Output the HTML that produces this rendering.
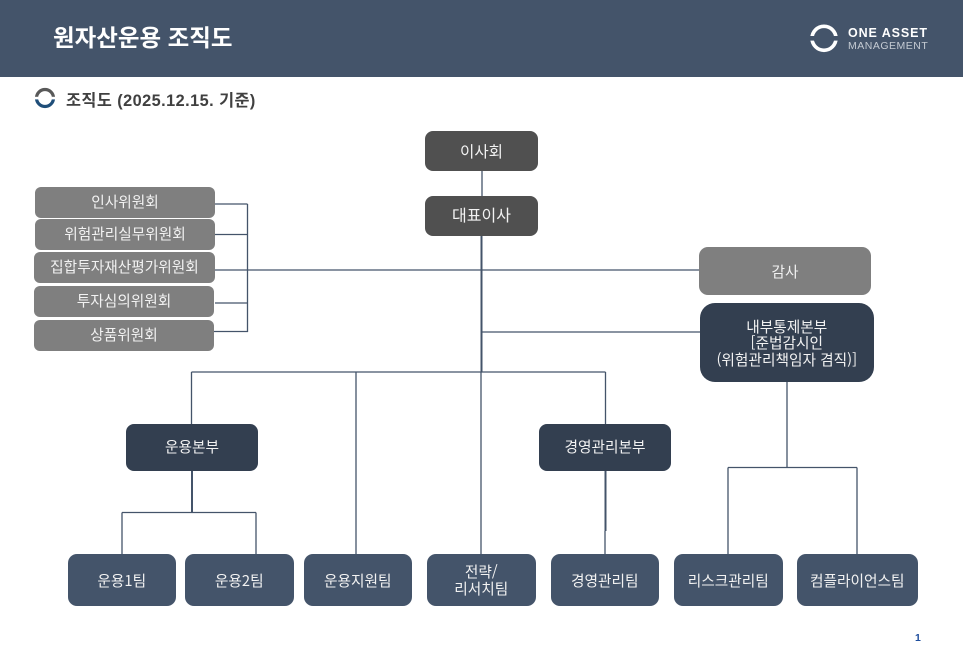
<!DOCTYPE html>
<html lang="ko"><head><meta charset="utf-8"><style>
html,body{margin:0;padding:0;background:#fff}
#p{position:relative;width:963px;height:666px;overflow:hidden;background:#fff;font-family:"Liberation Sans","Noto Sans CJK KR",sans-serif}
.k{font-family:"Noto Sans CJK KR","Liberation Sans",sans-serif}
.b{position:absolute;box-sizing:border-box;display:flex;align-items:center;justify-content:center;text-align:center;color:#f2f2f2;font-family:"Noto Sans CJK KR","Liberation Sans",sans-serif;font-size:14.7px;line-height:17px;border-radius:8px;white-space:nowrap}
.g{background:#7f7f7f;border-radius:6px;padding-bottom:2px}
.d{background:#505050}
.n{background:#333f50}
.t{background:#44546a;border-radius:9px}
svg{position:absolute;left:0;top:0}
</style></head><body><div id="p">
<div style="position:absolute;left:0;top:0;width:963px;height:77px;background:#44546a"></div>
<div class="k" style="position:absolute;left:53px;top:18px;color:#fff;font-size:23.5px;font-weight:700;line-height:36px;white-space:nowrap">원자산운용 조직도</div>
<svg width="963" height="666" viewBox="0 0 963 666" fill="none">
<circle cx="824" cy="38.300" r="12" stroke="#fff" stroke-width="3.600"/>
<rect x="808" y="36" width="32" height="4.600" fill="#44546a"/>
<path d="M36.500 98A8.500 8.500 0 0 1 53.500 98" stroke="#595959" stroke-width="3.200"/>
<path d="M36.500 98A8.500 8.500 0 0 0 53.500 98" stroke="#1f4e79" stroke-width="3.200"/>
<rect x="33" y="96.800" width="24" height="2.600" fill="#fff"/>
<g stroke="#44546a" stroke-width="1.3">
<path d="M215 204H247.500M215 234.500H248M215 303H247.500M214 331.500H248M247.500 204V332"/>
<path d="M215 270H699M481 332H700"/>
<path d="M482 171V196"/>
<path d="M191.500 372H605.500M191.500 372V424M356 372V554M605.500 372V424"/>
<path d="M122 512.500H256M122 512.500V554M256 512.500V554"/>
<path d="M481 372V554M605 531V554"/>
<path d="M787 382V467.500M728 467.500H857M728 467.500V554M857 467.500V554"/>
<path d="M481.500 235V372" stroke-width="2"/>
<path d="M192 471V512" stroke-width="2"/>
<path d="M605.500 471V531" stroke-width="2"/>
</g>
</svg>
<div style="position:absolute;left:848px;top:26px;color:#fff;font-size:12.500px;font-weight:700;letter-spacing:0.9px;line-height:14px;white-space:nowrap">ONE ASSET</div>
<div style="position:absolute;left:848px;top:40px;color:#c5cbd3;font-size:10.500px;letter-spacing:0.5px;line-height:12px;white-space:nowrap">MANAGEMENT</div>
<div style="position:absolute;left:66px;top:89px;color:#404040;font-size:16.300px;font-weight:700;letter-spacing:0.45px;line-height:24px;white-space:nowrap;font-family:'Liberation Sans','Noto Sans CJK KR',sans-serif">조직도 (2025.12.15. 기준)</div>

<div class="b d" style="left:425px;top:131px;width:113px;height:40px;font-size:15.600px">이사회</div>
<div class="b d" style="left:425px;top:196px;width:113px;height:39.500px;font-size:16px;padding-bottom:2px">대표이사</div>
<div class="b g" style="left:35px;top:187px;width:180px;height:31px">인사위원회</div>
<div class="b g" style="left:35px;top:219px;width:180px;height:31px">위험관리실무위원회</div>
<div class="b g" style="left:34px;top:252px;width:181px;height:31px">집합투자재산평가위원회</div>
<div class="b g" style="left:34px;top:286px;width:180px;height:31px">투자심의위원회</div>
<div class="b g" style="left:34px;top:320px;width:180px;height:31px">상품위원회</div>
<div class="b g" style="left:699px;top:247px;width:172px;height:48px;border-radius:9px;padding-bottom:0">감사</div>
<div class="b n" style="left:699.500px;top:303px;width:174.500px;height:79px;border-radius:15px;line-height:16.500px;padding-top:2px;letter-spacing:0">내부통제본부<br>[준법감시인<br>(위험관리책임자 겸직)]</div>
<div class="b n" style="left:126px;top:424px;width:132px;height:47px;padding-bottom:2px">운용본부</div>
<div class="b n" style="left:539px;top:424px;width:132px;height:47px;padding-bottom:2px">경영관리본부</div>
<div class="b t" style="left:67.500px;top:554px;width:108.500px;height:52px">운용1팀</div>
<div class="b t" style="left:185px;top:554px;width:108.500px;height:52px">운용2팀</div>
<div class="b t" style="left:303.500px;top:554px;width:108.500px;height:52px">운용지원팀</div>
<div class="b t" style="left:427px;top:554px;width:108.500px;height:52px">전략/<br>리서치팀</div>
<div class="b t" style="left:550.500px;top:554px;width:108.500px;height:52px">경영관리팀</div>
<div class="b t" style="left:674px;top:554px;width:108.500px;height:52px">리스크관리팀</div>
<div class="b t" style="left:797px;top:554px;width:120.500px;height:52px">컴플라이언스팀</div>
<div style="position:absolute;left:915px;top:632px;color:#1f4e9e;font-size:10.500px;font-weight:700;line-height:12px">1</div>
</div></body></html>
